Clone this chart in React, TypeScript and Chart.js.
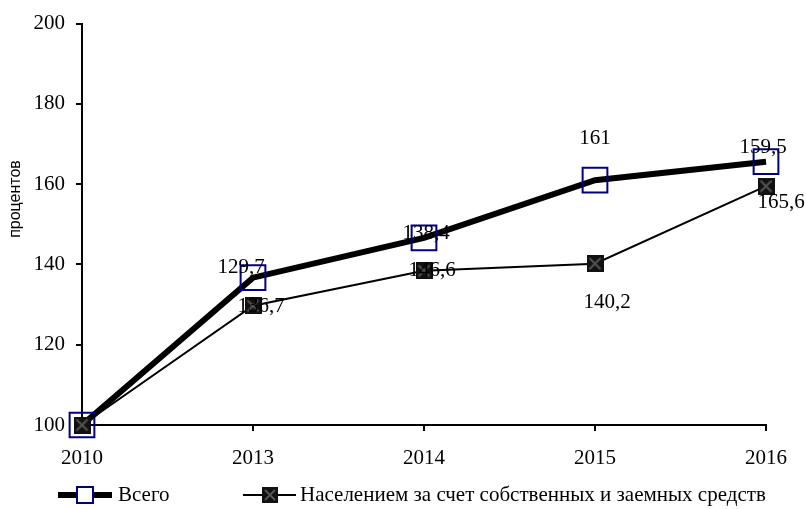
import React, { useEffect, useRef } from "react";
import { Chart, registerables } from "chart.js";

Chart.register(...registerables);

const categories = ["2010", "2013", "2014", "2015", "2016"];
const seriesNames = ["Всего", "Населением за счет собственных и заемных средств"];
const totalValues = [100, 136.7, 146.6, 161, 165.6];
const householdValues = [100, 129.7, 138.4, 140.2, 159.5];
// data labels as printed in the original chart
const totalLabels = ["", "129,7", "138,4", "161", "159,5"];
const householdLabels = ["", "136,7", "146,6", "140,2", "165,6"];
const yTicks = [100, 120, 140, 160, 180, 200];
const yTitle = "процентов";

// label placement (layout, relative to each point)
const totalLabelOffsets = [[0, 0], [-12, -10], [2, -4], [0, -42], [-3, -14]];
const householdLabelOffsets = [[0, 0], [8, 1], [8, 0], [12, 39], [15, 16]];

const SERIF = "'Liberation Serif', 'Times New Roman', serif";
const SANS = "'Liberation Sans', Arial, sans-serif";

function makeXMarker(size: number): HTMLCanvasElement {
  const c = document.createElement("canvas");
  c.width = size;
  c.height = size;
  const g = c.getContext("2d")!;
  g.fillStyle = "#111";
  g.fillRect(0, 0, size, size);
  g.strokeStyle = "#555";
  g.lineWidth = 2;
  g.beginPath();
  g.moveTo(3, 3);
  g.lineTo(size - 3, size - 3);
  g.moveTo(size - 3, 3);
  g.lineTo(3, size - 3);
  g.stroke();
  return c;
}

export default function App() {
  const ref = useRef<HTMLCanvasElement | null>(null);

  useEffect(() => {
    document.body.style.margin = "0";
    const canvas = ref.current!;
    const xMarker = makeXMarker(17);
    const xMarkerSmall = makeXMarker(16);

    const labelPlugin = {
      id: "labelsAndLegend",
      afterDatasetsDraw(chart: any) {
        const ctx = chart.ctx;
        ctx.save();
        ctx.fillStyle = "#000";
        ctx.font = `21px ${SERIF}`;
        ctx.textAlign = "center";
        ctx.textBaseline = "middle";
        const sets = [
          { meta: chart.getDatasetMeta(0), labels: totalLabels, offs: totalLabelOffsets },
          { meta: chart.getDatasetMeta(1), labels: householdLabels, offs: householdLabelOffsets },
        ];
        for (const s of sets) {
          s.meta.data.forEach((pt: any, i: number) => {
            const t = s.labels[i];
            if (!t) return;
            ctx.fillText(t, pt.x + s.offs[i][0], pt.y + s.offs[i][1]);
          });
        }
        ctx.restore();
      },
      afterDraw(chart: any) {
        const ctx = chart.ctx;
        ctx.save();
        // y-axis title
        ctx.fillStyle = "#000";
        ctx.font = `16px ${SANS}`;
        ctx.textAlign = "center";
        ctx.textBaseline = "middle";
        ctx.translate(16, 199);
        ctx.rotate(-Math.PI / 2);
        ctx.fillText(yTitle, 0, 0);
        ctx.restore();

        // legend
        ctx.save();
        const ly = 495;
        ctx.strokeStyle = "#000";
        ctx.lineWidth = 6;
        ctx.beginPath();
        ctx.moveTo(58, ly);
        ctx.lineTo(112, ly);
        ctx.stroke();
        ctx.fillStyle = "#fff";
        ctx.fillRect(77, ly - 8, 16, 16);
        ctx.strokeStyle = "#000080";
        ctx.lineWidth = 2;
        ctx.strokeRect(77, ly - 8, 16, 16);

        ctx.strokeStyle = "#000";
        ctx.lineWidth = 2;
        ctx.beginPath();
        ctx.moveTo(243, ly);
        ctx.lineTo(296, ly);
        ctx.stroke();
        ctx.drawImage(xMarkerSmall, 270 - 8, ly - 8);

        ctx.fillStyle = "#000";
        ctx.font = `21px ${SERIF}`;
        ctx.textAlign = "left";
        ctx.textBaseline = "middle";
        ctx.fillText(seriesNames[0], 118, ly);
        ctx.fillText(seriesNames[1], 300, ly);
        ctx.restore();
      },
    };

    const chart = new Chart(canvas, {
      type: "line",
      data: {
        labels: categories,
        datasets: [
          {
            label: seriesNames[0],
            data: totalValues,
            borderColor: "#000",
            borderWidth: 6,
            pointStyle: "rect",
            pointRadius: 17.5,
            pointBorderColor: "#000080",
            pointBorderWidth: 2,
            pointBackgroundColor: "rgba(0,0,0,0)",
            tension: 0,
            clip: false as any,
            order: 2,
          },
          {
            label: seriesNames[1],
            data: householdValues,
            borderColor: "#000",
            borderWidth: 2,
            pointStyle: xMarker as any,
            pointRadius: 9,
            tension: 0,
            clip: false as any,
            order: 1,
          },
        ],
      },
      options: {
        responsive: false,
        animation: false,
        layout: { padding: { left: 0, right: 40, top: 19, bottom: 0 } },
        plugins: {
          legend: { display: false },
          tooltip: { enabled: false },
          title: { display: false },
        },
        scales: {
          x: {
            type: "category",
            offset: false,
            grid: {
              display: true,
              drawOnChartArea: false,
              drawTicks: true,
              tickLength: 6,
              color: "#000",
              lineWidth: 2,
            },
            border: { display: true, color: "#000", width: 2 },
            ticks: {
              color: "#000",
              font: { family: SERIF, size: 21 },
              padding: 15,
              maxRotation: 0,
              autoSkip: false,
            },
            afterFit(scale: any) {
              scale.height = 84;
            },
          },
          y: {
            min: 100,
            max: 200,
            grid: {
              display: true,
              drawOnChartArea: false,
              drawTicks: true,
              tickLength: 6,
              color: "#000",
              lineWidth: 2,
            },
            border: { display: true, color: "#000", width: 2 },
            afterBuildTicks(scale: any) {
              scale.ticks = yTicks.map((v) => ({ value: v }));
            },
            ticks: {
              color: "#000",
              font: { family: SERIF, size: 21 },
              padding: 11,
            },
            afterFit(scale: any) {
              scale.width = 82;
            },
          },
        },
      },
      plugins: [labelPlugin],
    });

    return () => chart.destroy();
  }, []);

  return (
    <div style={{ width: 806, height: 509 }}>
      <canvas ref={ref} width={806} height={509} style={{ display: "block" }} />
    </div>
  );
}
